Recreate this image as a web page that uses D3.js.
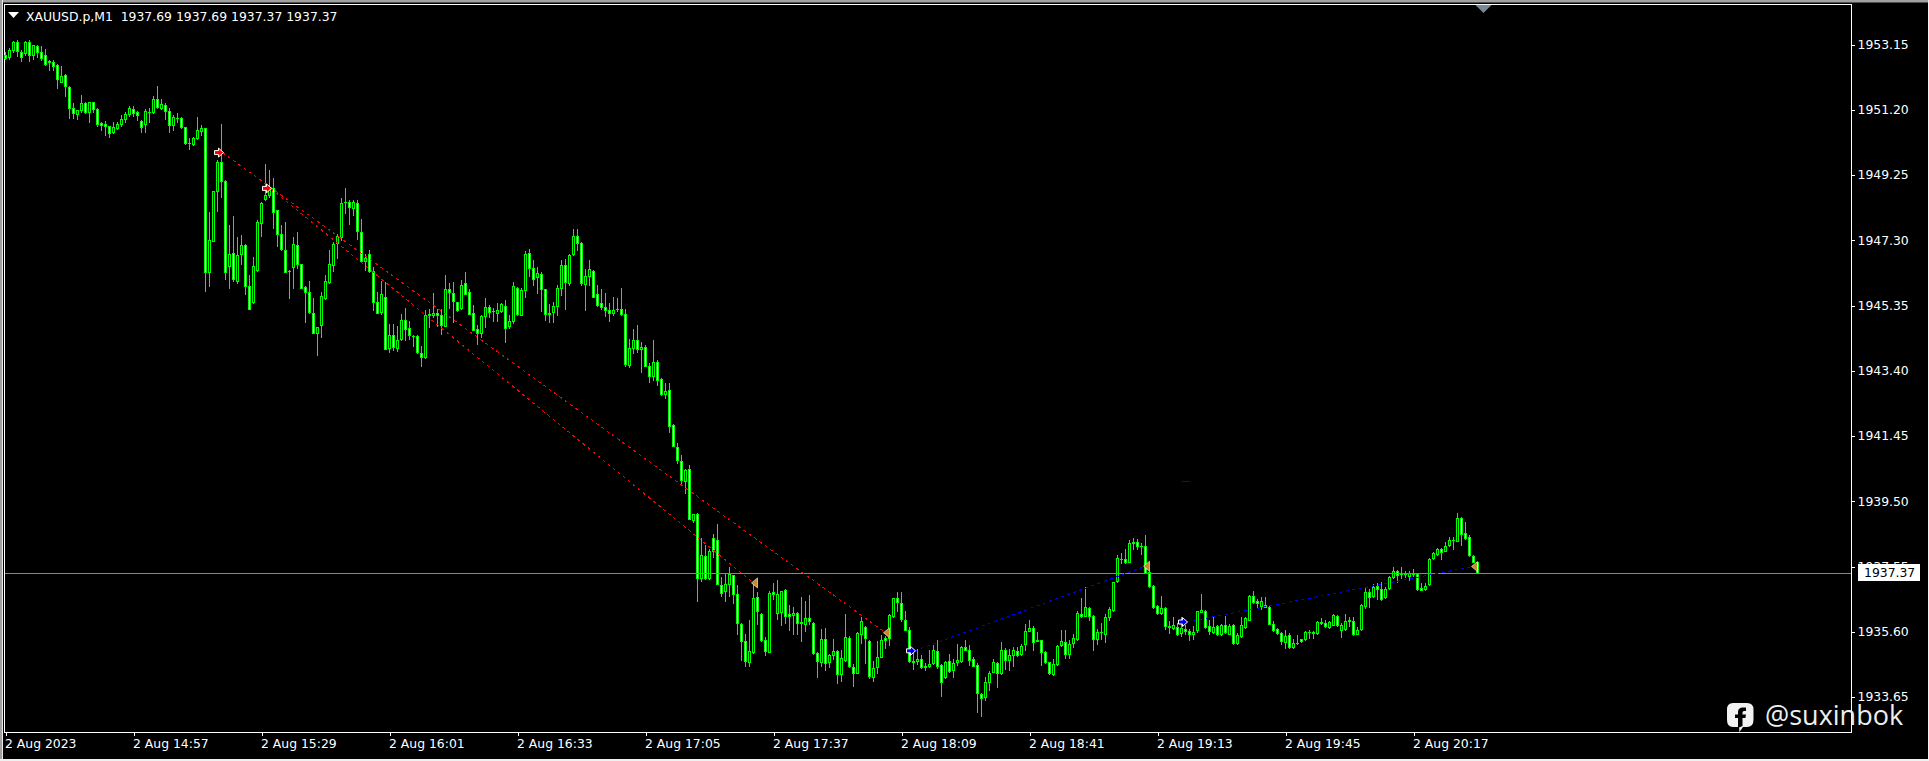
<!DOCTYPE html>
<html><head><meta charset="utf-8">
<script src="https://cdn.jsdelivr.net/npm/d3@7/dist/d3.min.js"></script>
<style>html,body{margin:0;padding:0;background:#000;overflow:hidden}svg{display:block}
text{font-family:"DejaVu Sans",sans-serif;font-size:12.4px;fill:#fff}</style>
</head><body><svg id="c" width="1929" height="761"></svg>
<script>
const opens=[1952.83,1952.79,1952.98,1953.23,1952.93,1952.90,1953.23,1952.85,1953.11,1952.93,
1952.85,1952.65,1952.64,1952.54,1952.04,1952.23,1951.89,1951.24,1951.07,1951.19,
1951.41,1951.14,1951.42,1951.22,1950.79,1950.76,1950.71,1950.53,1950.66,1950.78,
1950.91,1951.06,1951.21,1951.12,1950.87,1950.76,1951.14,1951.14,1951.51,1951.25,
1951.33,1951.17,1950.73,1950.95,1950.94,1950.67,1950.21,1950.17,1950.37,1950.57,
1950.64,1946.35,1947.28,1948.78,1949.63,1949.08,1946.53,1946.93,1946.08,1946.89,
1947.17,1945.94,1945.44,1946.42,1947.82,1948.52,1948.65,1948.85,1948.19,1947.50,
1947.02,1946.39,1946.50,1947.17,1946.60,1945.89,1945.76,1945.14,1944.54,1944.78,
1945.58,1946.04,1946.57,1947.22,1947.40,1948.44,1948.43,1948.27,1948.40,1947.56,
1946.67,1946.90,1946.38,1945.46,1945.16,1945.61,1944.08,1944.48,1944.08,1944.35,
1944.93,1944.69,1944.45,1944.45,1943.94,1943.81,1945.09,1945.06,1945.14,1945.08,
1944.74,1945.83,1945.71,1945.44,1945.28,1946.01,1945.74,1945.14,1944.64,1944.52,
1945.04,1945.31,1945.20,1945.13,1945.18,1945.35,1944.73,1944.88,1945.88,1945.07,
1945.82,1946.93,1946.48,1946.20,1946.30,1945.83,1945.14,1945.16,1945.34,1945.86,
1946.57,1946.03,1946.89,1947.44,1947.22,1946.00,1946.24,1946.39,1945.68,1945.41,
1945.32,1945.23,1945.13,1945.25,1945.26,1945.11,1943.57,1944.08,1944.33,1944.05,
1944.12,1943.55,1943.24,1943.67,1943.16,1942.71,1942.81,1941.79,1941.12,1940.71,
1940.10,1940.47,1938.95,1939.11,1937.20,1937.85,1937.20,1938.41,1938.33,1937.01,
1936.81,1937.03,1937.30,1936.73,1935.84,1935.33,1934.69,1934.99,1936.64,1936.14,
1935.36,1934.99,1936.79,1936.16,1936.19,1936.85,1936.12,1936.10,1936.17,1935.89,
1935.84,1936.02,1935.87,1934.97,1934.69,1935.39,1934.69,1934.91,1935.03,1934.34,
1934.76,1935.42,1934.56,1934.37,1935.54,1935.74,1935.33,1934.24,1934.54,1934.86,
1935.42,1935.41,1936.07,1936.61,1936.46,1935.96,1935.66,1934.69,1934.72,1934.79,
1934.58,1934.57,1934.66,1935.02,1934.61,1934.24,1934.72,1934.46,1934.69,1934.72,
1935.15,1935.06,1934.79,1934.61,1933.74,1933.64,1934.11,1934.39,1934.67,1934.36,
1935.06,1934.76,1934.92,1935.03,1934.95,1935.23,1935.62,1935.72,1935.34,1935.34,
1935.00,1934.70,1934.35,1934.63,1935.20,1935.30,1934.95,1935.26,1935.38,1936.14,
1936.07,1936.31,1936.08,1935.38,1935.60,1935.53,1936.03,1936.24,1937.11,1937.78,
1937.78,1937.68,1938.28,1938.29,1938.17,1938.16,1937.39,1936.97,1936.36,1936.16,
1936.31,1935.77,1935.71,1935.74,1935.56,1935.69,1935.63,1935.53,1935.66,1936.19,
1936.23,1935.78,1935.59,1935.76,1935.53,1935.81,1935.54,1935.81,1935.26,1935.47,
1935.74,1935.95,1936.67,1936.51,1936.36,1936.39,1936.35,1935.84,1935.67,1935.57,
1935.28,1935.49,1935.14,1935.27,1935.37,1935.38,1935.60,1935.59,1935.55,1935.90,
1935.87,1935.74,1935.81,1936.08,1935.65,1935.67,1935.95,1935.93,1935.53,1935.68,
1936.38,1936.78,1936.66,1936.97,1936.88,1936.63,1936.90,1937.23,1937.42,1937.36,
1937.36,1937.27,1937.34,1937.33,1936.90,1936.87,1937.03,1937.81,1937.91,1938.08,
1938.02,1938.18,1938.35,1938.32,1939.01,1938.56,1938.44,1937.87,1937.69];
const closes=[1952.74,1952.98,1953.23,1952.95,1952.77,1953.23,1952.83,1953.13,1952.93,1952.74,
1952.56,1952.64,1952.52,1952.11,1952.22,1951.92,1951.26,1951.09,1951.18,1951.41,
1951.14,1951.42,1951.22,1950.76,1950.73,1950.71,1950.52,1950.67,1950.76,1950.91,
1951.06,1951.24,1951.09,1951.03,1950.67,1951.15,1951.13,1951.51,1951.29,1951.37,
1951.16,1950.73,1950.97,1950.94,1950.67,1950.21,1950.20,1950.37,1950.58,1950.64,
1946.35,1947.32,1948.76,1949.63,1949.08,1946.35,1946.90,1946.13,1946.87,1947.17,
1945.94,1945.26,1946.52,1947.86,1948.40,1948.64,1948.82,1948.15,1947.49,1947.04,
1946.35,1946.37,1947.20,1946.60,1945.88,1945.74,1945.16,1944.54,1944.72,1945.62,
1946.07,1946.60,1947.20,1947.44,1948.40,1948.43,1948.30,1948.43,1947.58,1946.67,
1946.78,1946.38,1945.46,1945.14,1945.69,1944.06,1944.48,1944.11,1944.33,1944.93,
1944.65,1944.47,1944.43,1943.96,1943.81,1945.08,1945.07,1945.14,1945.06,1944.76,
1945.83,1945.74,1945.49,1945.21,1945.95,1945.70,1945.10,1944.62,1944.52,1945.05,
1945.31,1945.17,1945.18,1945.23,1945.38,1944.68,1944.90,1945.92,1945.10,1945.80,
1946.90,1946.47,1946.13,1946.33,1945.83,1945.10,1945.10,1945.35,1945.86,1946.57,
1946.06,1946.87,1947.44,1947.22,1946.03,1946.24,1946.45,1945.61,1945.37,1945.30,
1945.22,1945.13,1945.23,1945.24,1945.10,1943.60,1944.09,1944.33,1944.05,1944.12,
1943.55,1943.24,1943.67,1943.13,1942.72,1942.80,1941.76,1941.15,1940.74,1940.13,
1940.44,1938.98,1939.13,1937.20,1937.90,1937.20,1938.00,1938.00,1937.03,1936.75,
1937.03,1937.33,1936.73,1935.86,1935.32,1934.72,1935.01,1936.61,1936.21,1935.34,
1935.01,1936.76,1936.73,1936.73,1936.83,1936.07,1936.08,1936.17,1935.86,1935.87,
1936.02,1935.92,1934.97,1934.72,1935.39,1934.67,1934.91,1935.01,1934.34,1934.82,
1935.45,1934.57,1934.36,1935.57,1935.92,1935.41,1934.29,1934.52,1934.84,1935.34,
1935.36,1936.09,1936.61,1936.48,1935.97,1935.66,1934.72,1934.74,1934.79,1934.54,
1934.56,1934.64,1935.06,1934.57,1934.09,1934.69,1934.42,1934.67,1934.76,1935.15,
1935.05,1934.77,1934.59,1933.76,1933.61,1934.11,1934.37,1934.71,1934.36,1935.06,
1934.76,1934.91,1935.06,1934.92,1935.16,1935.63,1935.72,1935.29,1935.32,1934.99,
1934.69,1934.36,1934.64,1935.18,1935.33,1934.93,1935.24,1935.40,1936.17,1936.08,
1936.34,1936.07,1935.38,1935.60,1935.58,1936.05,1936.28,1937.10,1937.81,1937.76,
1937.68,1938.26,1938.26,1938.16,1938.15,1937.36,1936.96,1936.33,1936.16,1936.30,
1935.76,1935.75,1935.81,1935.52,1935.70,1935.62,1935.53,1935.60,1936.21,1936.25,
1935.74,1935.61,1935.75,1935.52,1935.81,1935.58,1935.78,1935.26,1935.49,1935.79,
1936.00,1936.67,1936.48,1936.45,1936.52,1936.35,1935.83,1935.64,1935.56,1935.31,
1935.48,1935.14,1935.27,1935.25,1935.31,1935.60,1935.58,1935.57,1935.90,1935.85,
1935.76,1935.88,1936.09,1935.79,1935.79,1935.91,1935.93,1935.52,1935.66,1936.40,
1936.78,1936.63,1936.95,1936.87,1936.59,1936.89,1937.24,1937.42,1937.29,1937.34,
1937.34,1937.36,1937.32,1936.87,1936.85,1936.97,1937.78,1937.96,1938.07,1937.98,
1938.16,1938.35,1938.33,1939.01,1938.52,1938.40,1937.89,1937.69,1937.37];
const highs=[1952.93,1953.05,1953.26,1953.28,1952.98,1953.26,1953.28,1953.13,1953.13,1953.11,
1953.01,1952.69,1952.69,1952.56,1952.52,1952.27,1951.91,1951.41,1951.19,1951.64,
1951.43,1951.44,1951.44,1951.24,1950.84,1950.86,1950.72,1950.84,1950.84,1951.04,
1951.14,1951.31,1951.31,1951.16,1950.89,1951.22,1951.24,1951.61,1951.91,1951.51,
1951.39,1951.26,1951.04,1951.11,1950.99,1950.69,1950.37,1950.39,1950.98,1950.74,
1950.64,1948.13,1948.76,1949.70,1950.76,1949.10,1947.75,1948.02,1947.40,1947.47,
1947.20,1946.25,1946.80,1947.90,1948.45,1949.57,1949.40,1949.15,1948.19,1947.75,
1947.86,1946.40,1947.40,1947.54,1946.60,1945.93,1946.07,1945.57,1944.72,1945.74,
1946.25,1947.00,1947.25,1947.50,1948.55,1948.85,1948.50,1948.50,1948.50,1947.93,
1946.90,1947.02,1946.50,1945.74,1946.08,1946.06,1944.81,1944.81,1944.73,1945.11,
1945.29,1944.89,1944.48,1944.47,1944.13,1945.23,1945.26,1945.71,1945.26,1945.26,
1946.25,1946.03,1946.06,1945.46,1946.11,1946.35,1945.84,1945.36,1944.76,1945.06,
1945.56,1945.36,1945.29,1945.41,1945.43,1945.51,1945.06,1946.06,1945.91,1945.86,
1946.97,1947.05,1946.70,1946.50,1946.35,1945.83,1945.39,1945.44,1945.96,1946.70,
1946.75,1946.90,1947.65,1947.65,1947.24,1946.45,1946.72,1946.40,1945.96,1945.83,
1945.71,1945.41,1945.61,1945.56,1945.86,1945.26,1944.36,1944.66,1944.76,1944.26,
1944.16,1943.63,1944.31,1943.71,1943.19,1943.02,1943.02,1941.80,1941.25,1940.87,
1940.47,1940.57,1939.13,1939.15,1938.41,1938.20,1938.06,1938.53,1938.83,1937.25,
1937.35,1937.55,1937.31,1937.01,1935.86,1935.52,1935.94,1937.08,1936.80,1936.16,
1935.44,1936.83,1937.06,1937.15,1936.83,1936.88,1936.41,1936.33,1936.19,1936.63,
1936.53,1936.71,1935.89,1934.99,1935.67,1935.71,1934.94,1935.39,1935.06,1935.04,
1936.14,1935.46,1934.64,1935.59,1936.04,1935.76,1935.34,1934.72,1935.32,1935.49,
1935.46,1936.12,1936.61,1936.80,1936.80,1936.23,1935.74,1935.04,1935.09,1934.91,
1934.67,1935.06,1935.19,1935.36,1934.63,1934.72,1934.94,1934.79,1935.24,1935.17,
1935.34,1935.19,1934.84,1934.67,1933.76,1934.26,1934.44,1934.79,1934.69,1935.29,
1935.12,1935.09,1935.14,1935.14,1935.24,1935.84,1935.94,1935.76,1935.59,1935.36,
1935.01,1934.71,1934.79,1935.20,1935.66,1935.64,1935.34,1935.52,1936.21,1936.61,
1936.95,1936.34,1936.10,1935.67,1935.86,1936.14,1936.35,1937.10,1937.88,1937.95,
1938.06,1938.33,1938.41,1938.38,1938.26,1938.48,1937.41,1937.01,1936.41,1936.68,
1936.34,1935.91,1936.04,1935.86,1936.04,1935.79,1935.67,1935.78,1936.22,1936.74,
1936.24,1935.96,1936.06,1935.79,1935.82,1936.06,1935.82,1935.82,1935.56,1936.04,
1936.04,1936.70,1936.83,1936.57,1936.63,1936.65,1936.37,1935.91,1935.70,1935.59,
1935.64,1935.56,1935.39,1935.49,1935.37,1935.62,1935.64,1935.62,1935.91,1936.00,
1935.96,1935.91,1936.12,1936.09,1935.86,1936.14,1936.03,1936.04,1935.74,1936.42,
1936.93,1936.88,1937.03,1937.05,1937.08,1936.93,1937.28,1937.55,1937.46,1937.55,
1937.41,1937.43,1937.48,1937.35,1937.06,1937.05,1937.79,1937.98,1938.09,1938.10,
1938.28,1938.43,1938.43,1939.16,1939.03,1938.88,1938.48,1937.88,1937.69];
const lows=[1952.71,1952.71,1952.93,1952.80,1952.67,1952.83,1952.67,1952.71,1952.78,1952.69,
1952.54,1952.39,1952.39,1951.86,1952.02,1951.61,1950.94,1950.94,1950.92,1951.14,
1951.11,1950.84,1951.14,1950.72,1950.59,1950.44,1950.39,1950.51,1950.61,1950.71,
1950.84,1951.02,1951.01,1950.88,1950.54,1950.54,1950.84,1951.11,1951.25,1951.21,
1950.91,1950.54,1950.59,1950.84,1950.66,1950.17,1950.02,1950.14,1950.34,1950.44,
1945.79,1945.93,1947.28,1948.18,1948.60,1946.13,1945.86,1946.09,1946.03,1946.60,
1945.69,1945.24,1945.43,1946.38,1947.42,1948.50,1948.60,1947.67,1947.12,1947.02,
1946.35,1945.58,1945.88,1946.47,1945.88,1944.86,1945.13,1944.54,1943.86,1944.41,
1945.55,1946.01,1946.38,1946.77,1947.32,1948.10,1947.78,1948.05,1947.34,1946.67,
1946.40,1946.35,1945.21,1945.13,1945.11,1944.06,1943.96,1944.01,1943.99,1944.31,
1944.31,1944.36,1944.13,1943.94,1943.53,1943.78,1944.71,1945.01,1944.73,1944.49,
1944.74,1945.28,1944.86,1945.19,1945.26,1945.68,1945.10,1944.62,1944.19,1944.41,
1944.71,1945.01,1944.88,1944.88,1945.15,1944.25,1944.68,1944.83,1945.06,1945.06,
1945.60,1946.22,1945.96,1945.73,1945.18,1944.91,1944.86,1944.86,1945.08,1945.66,
1945.24,1945.96,1946.86,1947.00,1945.96,1945.21,1945.96,1945.59,1945.34,1945.26,
1945.03,1944.88,1945.06,1945.19,1945.08,1943.53,1943.50,1943.94,1943.96,1943.35,
1943.53,1943.06,1943.13,1942.97,1942.68,1942.59,1941.57,1941.14,1940.64,1940.00,
1939.74,1938.98,1938.88,1936.53,1937.13,1937.18,1937.18,1937.83,1937.03,1936.66,
1936.53,1936.68,1936.45,1935.52,1934.77,1934.59,1934.59,1934.97,1935.84,1935.32,
1934.92,1934.99,1936.58,1935.99,1935.79,1935.86,1935.64,1935.54,1935.52,1935.32,
1935.62,1935.84,1934.94,1934.26,1934.59,1934.46,1934.56,1934.79,1934.06,1934.14,
1934.74,1934.54,1933.97,1934.36,1935.26,1934.66,1934.22,1934.12,1934.36,1934.84,
1935.12,1935.19,1936.04,1936.23,1935.92,1935.66,1934.69,1934.49,1934.64,1934.52,
1934.47,1934.56,1934.64,1934.51,1933.69,1934.22,1934.41,1934.24,1934.62,1934.70,
1935.04,1934.62,1934.57,1933.21,1933.09,1933.57,1933.87,1934.39,1933.96,1934.34,
1934.49,1934.46,1934.59,1934.89,1934.92,1935.04,1935.61,1935.04,1935.31,1934.62,
1934.67,1934.34,1934.32,1934.61,1935.18,1934.81,1934.81,1935.14,1935.36,1936.04,
1936.06,1935.94,1935.04,1935.22,1935.39,1935.28,1935.94,1936.23,1937.10,1937.65,
1937.66,1937.67,1938.06,1938.08,1937.91,1937.36,1936.94,1936.31,1936.14,1936.14,
1935.67,1935.57,1935.69,1935.51,1935.47,1935.52,1935.34,1935.39,1935.59,1936.18,
1935.72,1935.52,1935.57,1935.49,1935.51,1935.56,1935.52,1935.24,1935.24,1935.44,
1935.71,1935.94,1936.46,1936.31,1936.28,1936.33,1935.82,1935.62,1935.52,1935.24,
1935.11,1935.12,1935.12,1935.24,1935.30,1935.36,1935.42,1935.40,1935.54,1935.84,
1935.75,1935.72,1935.79,1935.77,1935.44,1935.66,1935.76,1935.50,1935.52,1935.66,
1936.31,1936.35,1936.64,1936.58,1936.55,1936.61,1936.88,1937.21,1937.08,1937.21,
1937.23,1937.15,1937.27,1936.85,1936.84,1936.85,1937.01,1937.78,1937.90,1937.76,
1938.00,1938.16,1938.08,1938.31,1938.18,1938.38,1937.87,1937.67,1937.37];
const priceTicks=[1953.15,1951.20,1949.25,1947.30,1945.35,1943.40,1941.45,1939.50,1937.55,1935.60,1933.65];
const timeTickBars=[0,32,64,96,128,160,192,224,256,288,320,352];
const timeTickLabels=["2 Aug 2023","2 Aug 14:57","2 Aug 15:29","2 Aug 16:01","2 Aug 16:33","2 Aug 17:05","2 Aug 17:37","2 Aug 18:09","2 Aug 18:41","2 Aug 19:13","2 Aug 19:45","2 Aug 20:17"];
const sellTrades=[[54,1949.92,220,1935.57],[66,1948.85,187,1937.06]];
const buyTrades=[[227,1935.03,285,1937.56],[295,1935.89,367,1937.55]];
const currentPrice=1937.37;
const headerText="XAUUSD.p,M1  1937.69 1937.69 1937.37 1937.37";

const svg=d3.select("#c");
const green="#00ff00", slate="#778899", fontSize="12.4px";
const x=d3.scaleLinear([0,368],[5.5,1477.5]);
const y=d3.scaleLinear([1933.65,1953.15],[697,44.5]);
const Y=p=>Math.round(y(p));
const bars=d3.range(opens.length);

svg.append("rect").attr("width",1929).attr("height",761).attr("fill","#000");
// window edges
svg.append("rect").attr("width",1929).attr("height",2.5).attr("fill","#a0a0a0");
svg.append("rect").attr("width",2).attr("height",761).attr("fill","#a0a0a0");
svg.append("rect").attr("x",2).attr("width",1).attr("height",761).attr("fill","#e8e8e8");
svg.append("rect").attr("y",759).attr("width",1929).attr("height",2).attr("fill","#f0f0f0");
svg.append("rect").attr("x",1928).attr("width",1).attr("height",761).attr("fill","#f0f0f0");

// frame
svg.append("rect").attr("x",4.5).attr("y",4.5).attr("width",1847).attr("height",728)
  .attr("fill","none").attr("stroke","#fff").attr("shape-rendering","crispEdges");

// axes
const ax=svg.append("g").attr("transform","translate(1851.5,0)")
  .call(d3.axisRight(y).tickValues(priceTicks).tickFormat(d3.format(".2f")).tickSize(3).tickPadding(3));
ax.select(".domain").remove();
ax.selectAll("line").attr("stroke","#fff").attr("shape-rendering","crispEdges");
ax.selectAll("text").attr("fill","#fff").style("font-family",'"DejaVu Sans",sans-serif').style("font-size",fontSize);

const xa=svg.append("g").attr("transform","translate(0,732.5)")
  .call(d3.axisBottom(x).tickValues(timeTickBars).tickFormat((d,i)=>timeTickLabels[i]).tickSize(3).tickPadding(4));
xa.select(".domain").remove();
xa.selectAll("line").attr("stroke","#fff").attr("shape-rendering","crispEdges");
xa.selectAll("text").attr("text-anchor","start").attr("dx",-1).attr("fill","#fff").style("font-family",'"DejaVu Sans",sans-serif').style("font-size",fontSize);

// candles
const g=svg.append("g").attr("shape-rendering","crispEdges");
g.selectAll("line.w").data(bars).join("line").attr("class","w")
  .attr("x1",i=>x(i)).attr("x2",i=>x(i)).attr("y1",i=>Y(highs[i])).attr("y2",i=>Y(lows[i])+1)
  .attr("stroke",green);
g.selectAll("rect.b").data(bars).join("rect").attr("class","b")
  .attr("x",i=>x(i)-1.5).attr("width",3)
  .attr("y",i=>Y(Math.max(opens[i],closes[i])))
  .attr("height",i=>Math.max(1,Y(Math.min(opens[i],closes[i]))-Y(Math.max(opens[i],closes[i]))+1))
  .attr("fill",green);
g.selectAll("rect.f").data(bars.filter(i=>Y(Math.min(opens[i],closes[i]))-Y(Math.max(opens[i],closes[i]))>=2)).join("rect").attr("class","f")
  .attr("x",i=>x(i)-.5).attr("width",1)
  .attr("y",i=>Y(Math.max(opens[i],closes[i]))+1)
  .attr("height",i=>Y(Math.min(opens[i],closes[i]))-Y(Math.max(opens[i],closes[i]))-1)
  .attr("fill",i=>closes[i]<opens[i]?"#fff":"#000");

// bid line
svg.append("line").attr("x1",5).attr("x2",1851).attr("y1",Y(currentPrice)+.5).attr("y2",Y(currentPrice)+.5)
  .attr("stroke",slate).attr("shape-rendering","crispEdges");

// trade lines
function trade(t,col){
  svg.append("line").attr("x1",x(t[0])+1).attr("y1",y(t[1])).attr("x2",x(t[2])).attr("y2",y(t[3]))
    .attr("stroke",col).attr("stroke-width",1).attr("stroke-dasharray","3 3.5").attr("shape-rendering","crispEdges");
}
sellTrades.forEach(t=>trade(t,"#ff0000"));
buyTrades.forEach(t=>trade(t,"#0000ff"));
// small stray blue segment
svg.append("line").attr("x1",x(294.2)).attr("x2",x(296)).attr("y1",y(1940.10)).attr("y2",y(1940.10))
  .attr("stroke","#0000ff").attr("shape-rendering","crispEdges");

// markers
const arrow="M-7,-2 L-3,-2 L-3,-4.5 L2,0 L-3,4.5 L-3,2 L-7,2 Z";
const tri="M-2,0 L4,-5 L4,5 Z";
function markers(ts,col){
  ts.forEach(t=>{
    svg.append("path").attr("d",arrow).attr("transform",`translate(${x(t[0])},${y(t[1])})`)
      .attr("fill",col).attr("stroke","#fff").attr("stroke-width",1);
    svg.append("path").attr("d",tri).attr("transform",`translate(${x(t[2])},${y(t[3])})`)
      .attr("fill","#c98a2b").attr("stroke","#fff").attr("stroke-width",.6);
  });
}
markers(sellTrades,"#ff0000");
markers(buyTrades,"#0000ff");

// price label
svg.append("rect").attr("x",1858).attr("y",564).attr("width",62).attr("height",17).attr("fill","#fff");
svg.append("text").attr("x",1864).attr("y",y(currentPrice)+4.5).style("fill","#000").text(currentPrice.toFixed(2));

// header
svg.append("path").attr("d","M8,12 L19,12 L13.5,18 Z").attr("fill","#fff");
svg.append("text").attr("x",26).attr("y",20.5).attr("xml:space","preserve").style("white-space","pre").text(headerText);
// shift marker
svg.append("path").attr("d","M1475.5,5 L1491.5,5 L1483.5,13 Z").attr("fill",slate);

// watermark
const wm=svg.append("g");
wm.append("path").attr("d","M1733,703 H1747 Q1753.5,703 1753.5,709.5 V720 Q1753.5,727 1747,727 H1743 L1739.5,732 L1739,727 H1733 Q1727,727 1727,720 V709.5 Q1727,703 1733,703 Z").attr("fill","#f2f2f2");
wm.append("path").attr("d","M1738,728 V718 H1735 V714.5 H1738 V712 Q1738,707.5 1743,707.5 H1746 V711 H1744 Q1742.5,711 1742.5,712.5 V714.5 H1746 L1745.4,718 H1742.5 V726 Z").attr("fill","#000");
wm.append("text").attr("x",1765).attr("y",725).style("font-family","'Open Sans',sans-serif").style("font-size","27px").style("fill","#eeeeee").text("@suxinbok");
</script></body></html>
